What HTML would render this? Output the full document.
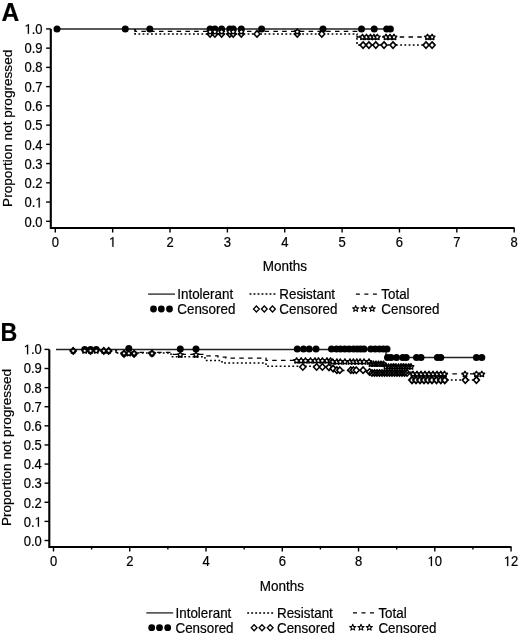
<!DOCTYPE html><html><head><meta charset="utf-8"><style>html,body{margin:0;padding:0;background:#fff;}svg{display:block;}svg{filter:grayscale(1);} text{stroke:#000;stroke-width:0.2px;}</style></head><body>
<svg width="520" height="636" viewBox="0 0 520 636">
<rect width="520" height="636" fill="#fff"/>
<text transform="translate(1.5,21.3) scale(0.985,1)" font-family="Liberation Sans, sans-serif" font-weight="bold" font-size="25" fill="#000">A</text>
<path d="M50.8,28.9 V228 H514.5" fill="none" stroke="#000" stroke-width="2.1"/>
<line x1="46.1" y1="221.30" x2="50.8" y2="221.30" stroke="#000" stroke-width="1.4"/>
<text transform="translate(24.53,226.70) scale(1,1.07)" font-family="Liberation Sans, sans-serif" font-size="13" fill="#000">0.0</text>
<line x1="46.1" y1="202.06" x2="50.8" y2="202.06" stroke="#000" stroke-width="1.4"/>
<text transform="translate(24.53,207.41) scale(1,1.07)" font-family="Liberation Sans, sans-serif" font-size="13" fill="#000">0. </text><path transform="translate(35.370,207.410) scale(0.006348,-0.006792)" d="M515,0 V1237 Q380,1130 197,1040 V1190 Q420,1300 540,1409 H696 V0 Z" fill="#000" stroke="#000" stroke-width="30"/>
<line x1="46.1" y1="182.82" x2="50.8" y2="182.82" stroke="#000" stroke-width="1.4"/>
<text transform="translate(24.53,188.12) scale(1,1.07)" font-family="Liberation Sans, sans-serif" font-size="13" fill="#000">0.2</text>
<line x1="46.1" y1="163.58" x2="50.8" y2="163.58" stroke="#000" stroke-width="1.4"/>
<text transform="translate(24.53,168.83) scale(1,1.07)" font-family="Liberation Sans, sans-serif" font-size="13" fill="#000">0.3</text>
<line x1="46.1" y1="144.34" x2="50.8" y2="144.34" stroke="#000" stroke-width="1.4"/>
<text transform="translate(24.53,149.54) scale(1,1.07)" font-family="Liberation Sans, sans-serif" font-size="13" fill="#000">0.4</text>
<line x1="46.1" y1="125.10" x2="50.8" y2="125.10" stroke="#000" stroke-width="1.4"/>
<text transform="translate(24.53,130.25) scale(1,1.07)" font-family="Liberation Sans, sans-serif" font-size="13" fill="#000">0.5</text>
<line x1="46.1" y1="105.86" x2="50.8" y2="105.86" stroke="#000" stroke-width="1.4"/>
<text transform="translate(24.53,110.96) scale(1,1.07)" font-family="Liberation Sans, sans-serif" font-size="13" fill="#000">0.6</text>
<line x1="46.1" y1="86.62" x2="50.8" y2="86.62" stroke="#000" stroke-width="1.4"/>
<text transform="translate(24.53,91.67) scale(1,1.07)" font-family="Liberation Sans, sans-serif" font-size="13" fill="#000">0.7</text>
<line x1="46.1" y1="67.38" x2="50.8" y2="67.38" stroke="#000" stroke-width="1.4"/>
<text transform="translate(24.53,72.38) scale(1,1.07)" font-family="Liberation Sans, sans-serif" font-size="13" fill="#000">0.8</text>
<line x1="46.1" y1="48.14" x2="50.8" y2="48.14" stroke="#000" stroke-width="1.4"/>
<text transform="translate(24.53,53.09) scale(1,1.07)" font-family="Liberation Sans, sans-serif" font-size="13" fill="#000">0.9</text>
<line x1="46.1" y1="28.90" x2="50.8" y2="28.90" stroke="#000" stroke-width="1.4"/>
<text transform="translate(24.53,33.80) scale(1,1.07)" font-family="Liberation Sans, sans-serif" font-size="13" fill="#000"> .0</text><path transform="translate(24.528,33.800) scale(0.006348,-0.006792)" d="M515,0 V1237 Q380,1130 197,1040 V1190 Q420,1300 540,1409 H696 V0 Z" fill="#000" stroke="#000" stroke-width="30"/>
<line x1="55.30" y1="228" x2="55.30" y2="232.5" stroke="#000" stroke-width="1.4"/>
<text transform="translate(51.69,246.80) scale(1,1.07)" font-family="Liberation Sans, sans-serif" font-size="13" fill="#000">0</text>
<line x1="112.66" y1="228" x2="112.66" y2="232.5" stroke="#000" stroke-width="1.4"/>
<text transform="translate(109.05,246.80) scale(1,1.07)" font-family="Liberation Sans, sans-serif" font-size="13" fill="#000"> </text><path transform="translate(109.045,246.800) scale(0.006348,-0.006792)" d="M515,0 V1237 Q380,1130 197,1040 V1190 Q420,1300 540,1409 H696 V0 Z" fill="#000" stroke="#000" stroke-width="30"/>
<line x1="170.02" y1="228" x2="170.02" y2="232.5" stroke="#000" stroke-width="1.4"/>
<text transform="translate(166.41,246.80) scale(1,1.07)" font-family="Liberation Sans, sans-serif" font-size="13" fill="#000">2</text>
<line x1="227.38" y1="228" x2="227.38" y2="232.5" stroke="#000" stroke-width="1.4"/>
<text transform="translate(223.77,246.80) scale(1,1.07)" font-family="Liberation Sans, sans-serif" font-size="13" fill="#000">3</text>
<line x1="284.74" y1="228" x2="284.74" y2="232.5" stroke="#000" stroke-width="1.4"/>
<text transform="translate(281.13,246.80) scale(1,1.07)" font-family="Liberation Sans, sans-serif" font-size="13" fill="#000">4</text>
<line x1="342.10" y1="228" x2="342.10" y2="232.5" stroke="#000" stroke-width="1.4"/>
<text transform="translate(338.49,246.80) scale(1,1.07)" font-family="Liberation Sans, sans-serif" font-size="13" fill="#000">5</text>
<line x1="399.46" y1="228" x2="399.46" y2="232.5" stroke="#000" stroke-width="1.4"/>
<text transform="translate(395.85,246.80) scale(1,1.07)" font-family="Liberation Sans, sans-serif" font-size="13" fill="#000">6</text>
<line x1="456.82" y1="228" x2="456.82" y2="232.5" stroke="#000" stroke-width="1.4"/>
<text transform="translate(453.21,246.80) scale(1,1.07)" font-family="Liberation Sans, sans-serif" font-size="13" fill="#000">7</text>
<line x1="514.18" y1="228" x2="514.18" y2="232.5" stroke="#000" stroke-width="1.4"/>
<text transform="translate(510.57,246.80) scale(1,1.07)" font-family="Liberation Sans, sans-serif" font-size="13" fill="#000">8</text>
<text transform="translate(284.80,271.30) scale(1,1.04)" font-family="Liberation Sans, sans-serif" font-size="13.5" text-anchor="middle" fill="#000">Months</text>
<text transform="translate(11.8,128.3) rotate(-90)" x="0" y="0" font-family="Liberation Sans, sans-serif" font-size="13.6" text-anchor="middle" fill="#000">Proportion not progressed</text>
<path d="M57.02,28.90 H390.4" fill="none" stroke="#222" stroke-width="1.5"/>
<path d="M135.00,28.90 H135.00 V31.30 H357.00 V37.00 H433.00 V37.00" fill="none" stroke="#000" stroke-width="1.3" stroke-dasharray="4.5,4.3"/>
<path d="M135.00,28.90 H135.00 V33.90 H357.00 V45.10 H433.00 V45.10" fill="none" stroke="#000" stroke-width="1.5" stroke-dasharray="1.8,2.4"/>
<circle cx="57.00" cy="28.90" r="3.5" fill="#000"/>
<circle cx="125.30" cy="28.90" r="3.5" fill="#000"/>
<circle cx="149.80" cy="28.90" r="3.5" fill="#000"/>
<circle cx="210.10" cy="28.90" r="3.5" fill="#000"/>
<circle cx="214.90" cy="28.90" r="3.5" fill="#000"/>
<circle cx="221.60" cy="28.90" r="3.5" fill="#000"/>
<circle cx="229.80" cy="28.90" r="3.5" fill="#000"/>
<circle cx="233.20" cy="28.90" r="3.5" fill="#000"/>
<circle cx="241.30" cy="28.90" r="3.5" fill="#000"/>
<circle cx="261.60" cy="28.90" r="3.5" fill="#000"/>
<circle cx="323.00" cy="28.90" r="3.5" fill="#000"/>
<circle cx="361.50" cy="28.90" r="3.5" fill="#000"/>
<circle cx="374.20" cy="28.90" r="3.5" fill="#000"/>
<circle cx="386.70" cy="28.90" r="3.5" fill="#000"/>
<circle cx="390.40" cy="28.90" r="3.5" fill="#000"/>
<polygon points="210.10,30.70 213.10,33.90 210.10,37.10 207.10,33.90" fill="#fff" stroke="#000" stroke-width="1.5"/>
<polygon points="214.90,30.70 217.90,33.90 214.90,37.10 211.90,33.90" fill="#fff" stroke="#000" stroke-width="1.5"/>
<polygon points="221.60,30.70 224.60,33.90 221.60,37.10 218.60,33.90" fill="#fff" stroke="#000" stroke-width="1.5"/>
<polygon points="229.80,30.70 232.80,33.90 229.80,37.10 226.80,33.90" fill="#fff" stroke="#000" stroke-width="1.5"/>
<polygon points="233.20,30.70 236.20,33.90 233.20,37.10 230.20,33.90" fill="#fff" stroke="#000" stroke-width="1.5"/>
<polygon points="241.30,30.70 244.30,33.90 241.30,37.10 238.30,33.90" fill="#fff" stroke="#000" stroke-width="1.5"/>
<polygon points="257.00,30.70 260.00,33.90 257.00,37.10 254.00,33.90" fill="#fff" stroke="#000" stroke-width="1.5"/>
<polygon points="297.30,30.70 300.30,33.90 297.30,37.10 294.30,33.90" fill="#fff" stroke="#000" stroke-width="1.5"/>
<polygon points="321.80,30.70 324.80,33.90 321.80,37.10 318.80,33.90" fill="#fff" stroke="#000" stroke-width="1.5"/>
<polygon points="363.10,41.90 366.10,45.10 363.10,48.30 360.10,45.10" fill="#fff" stroke="#000" stroke-width="1.6"/>
<polygon points="368.90,41.90 371.90,45.10 368.90,48.30 365.90,45.10" fill="#fff" stroke="#000" stroke-width="1.6"/>
<polygon points="375.80,41.90 378.80,45.10 375.80,48.30 372.80,45.10" fill="#fff" stroke="#000" stroke-width="1.6"/>
<polygon points="384.00,41.90 387.00,45.10 384.00,48.30 381.00,45.10" fill="#fff" stroke="#000" stroke-width="1.6"/>
<polygon points="393.00,41.90 396.00,45.10 393.00,48.30 390.00,45.10" fill="#fff" stroke="#000" stroke-width="1.6"/>
<polygon points="426.00,41.90 429.00,45.10 426.00,48.30 423.00,45.10" fill="#fff" stroke="#000" stroke-width="1.6"/>
<polygon points="432.10,41.90 435.10,45.10 432.10,48.30 429.10,45.10" fill="#fff" stroke="#000" stroke-width="1.6"/>
<polygon points="210.10,28.80 211.04,30.41 212.86,30.80 211.62,32.19 211.80,34.05 210.10,33.30 208.40,34.05 208.58,32.19 207.34,30.80 209.16,30.41" fill="#fff" stroke="#000" stroke-width="1.3" stroke-linejoin="round"/>
<polygon points="214.90,28.80 215.84,30.41 217.66,30.80 216.42,32.19 216.60,34.05 214.90,33.30 213.20,34.05 213.38,32.19 212.14,30.80 213.96,30.41" fill="#fff" stroke="#000" stroke-width="1.3" stroke-linejoin="round"/>
<polygon points="221.60,28.80 222.54,30.41 224.36,30.80 223.12,32.19 223.30,34.05 221.60,33.30 219.90,34.05 220.08,32.19 218.84,30.80 220.66,30.41" fill="#fff" stroke="#000" stroke-width="1.3" stroke-linejoin="round"/>
<polygon points="229.80,28.80 230.74,30.41 232.56,30.80 231.32,32.19 231.50,34.05 229.80,33.30 228.10,34.05 228.28,32.19 227.04,30.80 228.86,30.41" fill="#fff" stroke="#000" stroke-width="1.3" stroke-linejoin="round"/>
<polygon points="233.20,28.80 234.14,30.41 235.96,30.80 234.72,32.19 234.90,34.05 233.20,33.30 231.50,34.05 231.68,32.19 230.44,30.80 232.26,30.41" fill="#fff" stroke="#000" stroke-width="1.3" stroke-linejoin="round"/>
<polygon points="241.30,28.80 242.24,30.41 244.06,30.80 242.82,32.19 243.00,34.05 241.30,33.30 239.60,34.05 239.78,32.19 238.54,30.80 240.36,30.41" fill="#fff" stroke="#000" stroke-width="1.3" stroke-linejoin="round"/>
<polygon points="297.30,28.80 298.24,30.41 300.06,30.80 298.82,32.19 299.00,34.05 297.30,33.30 295.60,34.05 295.78,32.19 294.54,30.80 296.36,30.41" fill="#fff" stroke="#000" stroke-width="1.3" stroke-linejoin="round"/>
<polygon points="362.50,34.30 363.44,35.91 365.26,36.30 364.02,37.69 364.20,39.55 362.50,38.79 360.80,39.55 360.98,37.69 359.74,36.30 361.56,35.91" fill="#fff" stroke="#000" stroke-width="1.45" stroke-linejoin="round"/>
<polygon points="366.50,34.30 367.44,35.91 369.26,36.30 368.02,37.69 368.20,39.55 366.50,38.79 364.80,39.55 364.98,37.69 363.74,36.30 365.56,35.91" fill="#fff" stroke="#000" stroke-width="1.45" stroke-linejoin="round"/>
<polygon points="370.50,34.30 371.44,35.91 373.26,36.30 372.02,37.69 372.20,39.55 370.50,38.79 368.80,39.55 368.98,37.69 367.74,36.30 369.56,35.91" fill="#fff" stroke="#000" stroke-width="1.45" stroke-linejoin="round"/>
<polygon points="374.00,34.30 374.94,35.91 376.76,36.30 375.52,37.69 375.70,39.55 374.00,38.79 372.30,39.55 372.48,37.69 371.24,36.30 373.06,35.91" fill="#fff" stroke="#000" stroke-width="1.45" stroke-linejoin="round"/>
<polygon points="377.30,34.30 378.24,35.91 380.06,36.30 378.82,37.69 379.00,39.55 377.30,38.79 375.60,39.55 375.78,37.69 374.54,36.30 376.36,35.91" fill="#fff" stroke="#000" stroke-width="1.45" stroke-linejoin="round"/>
<polygon points="386.00,34.30 386.94,35.91 388.76,36.30 387.52,37.69 387.70,39.55 386.00,38.79 384.30,39.55 384.48,37.69 383.24,36.30 385.06,35.91" fill="#fff" stroke="#000" stroke-width="1.45" stroke-linejoin="round"/>
<polygon points="390.00,34.30 390.94,35.91 392.76,36.30 391.52,37.69 391.70,39.55 390.00,38.79 388.30,39.55 388.48,37.69 387.24,36.30 389.06,35.91" fill="#fff" stroke="#000" stroke-width="1.45" stroke-linejoin="round"/>
<polygon points="394.00,34.30 394.94,35.91 396.76,36.30 395.52,37.69 395.70,39.55 394.00,38.79 392.30,39.55 392.48,37.69 391.24,36.30 393.06,35.91" fill="#fff" stroke="#000" stroke-width="1.45" stroke-linejoin="round"/>
<polygon points="427.50,34.30 428.44,35.91 430.26,36.30 429.02,37.69 429.20,39.55 427.50,38.79 425.80,39.55 425.98,37.69 424.74,36.30 426.56,35.91" fill="#fff" stroke="#000" stroke-width="1.45" stroke-linejoin="round"/>
<polygon points="432.10,34.30 433.04,35.91 434.86,36.30 433.62,37.69 433.80,39.55 432.10,38.79 430.40,39.55 430.58,37.69 429.34,36.30 431.16,35.91" fill="#fff" stroke="#000" stroke-width="1.45" stroke-linejoin="round"/>
<line x1="148.10" y1="294.10" x2="175.00" y2="294.10" stroke="#222" stroke-width="1.3"/>
<text transform="translate(177.30,298.80) scale(1,1.07)" font-family="Liberation Sans, sans-serif" font-size="13.4" fill="#000">Intolerant</text>
<line x1="249.50" y1="294.10" x2="277.00" y2="294.10" stroke="#000" stroke-width="1.5" stroke-dasharray="1.9,2.1"/>
<text transform="translate(279.30,298.80) scale(1,1.07)" font-family="Liberation Sans, sans-serif" font-size="13.4" fill="#000">Resistant</text>
<line x1="355.90" y1="294.10" x2="378.00" y2="294.10" stroke="#000" stroke-width="1.3" stroke-dasharray="4,4.5"/>
<text transform="translate(381.30,298.80) scale(1,1.07)" font-family="Liberation Sans, sans-serif" font-size="13.4" fill="#000">Total</text>
<circle cx="153.50" cy="309.00" r="3.4" fill="#000"/>
<circle cx="161.30" cy="309.00" r="3.4" fill="#000"/>
<circle cx="169.50" cy="309.00" r="3.4" fill="#000"/>
<text transform="translate(177.30,313.80) scale(1,1.07)" font-family="Liberation Sans, sans-serif" font-size="13.4" fill="#000">Censored</text>
<polygon points="256.40,306.00 259.30,309.00 256.40,312.00 253.50,309.00" fill="#fff" stroke="#000" stroke-width="1.3"/>
<polygon points="264.30,306.00 267.20,309.00 264.30,312.00 261.40,309.00" fill="#fff" stroke="#000" stroke-width="1.3"/>
<polygon points="272.50,306.00 275.40,309.00 272.50,312.00 269.60,309.00" fill="#fff" stroke="#000" stroke-width="1.3"/>
<text transform="translate(279.30,313.80) scale(1,1.07)" font-family="Liberation Sans, sans-serif" font-size="13.4" fill="#000">Censored</text>
<polygon points="355.65,305.60 356.44,307.71 358.69,307.81 356.93,309.22 357.53,311.39 355.65,310.15 353.77,311.39 354.37,309.22 352.61,307.81 354.86,307.71" fill="#fff" stroke="#000" stroke-width="1.1" stroke-linejoin="round"/>
<polygon points="363.90,305.60 364.69,307.71 366.94,307.81 365.18,309.22 365.78,311.39 363.90,310.15 362.02,311.39 362.62,309.22 360.86,307.81 363.11,307.71" fill="#fff" stroke="#000" stroke-width="1.1" stroke-linejoin="round"/>
<polygon points="372.20,305.60 372.99,307.71 375.24,307.81 373.48,309.22 374.08,311.39 372.20,310.15 370.32,311.39 370.92,309.22 369.16,307.81 371.41,307.71" fill="#fff" stroke="#000" stroke-width="1.1" stroke-linejoin="round"/>
<text transform="translate(381.30,313.80) scale(1,1.07)" font-family="Liberation Sans, sans-serif" font-size="13.4" fill="#000">Censored</text>
<text transform="translate(0.6,340.8) scale(0.93,1)" font-family="Liberation Sans, sans-serif" font-weight="bold" font-size="25" fill="#000">B</text>
<path d="M49.3,349.4 V547 H511.5" fill="none" stroke="#000" stroke-width="2.1"/>
<line x1="44.5" y1="540.50" x2="49.3" y2="540.50" stroke="#000" stroke-width="1.4"/>
<text transform="translate(23.73,545.90) scale(1,1.07)" font-family="Liberation Sans, sans-serif" font-size="13" fill="#000">0.0</text>
<line x1="44.5" y1="521.39" x2="49.3" y2="521.39" stroke="#000" stroke-width="1.4"/>
<text transform="translate(23.73,526.74) scale(1,1.07)" font-family="Liberation Sans, sans-serif" font-size="13" fill="#000">0. </text><path transform="translate(34.570,526.740) scale(0.006348,-0.006792)" d="M515,0 V1237 Q380,1130 197,1040 V1190 Q420,1300 540,1409 H696 V0 Z" fill="#000" stroke="#000" stroke-width="30"/>
<line x1="44.5" y1="502.28" x2="49.3" y2="502.28" stroke="#000" stroke-width="1.4"/>
<text transform="translate(23.73,507.58) scale(1,1.07)" font-family="Liberation Sans, sans-serif" font-size="13" fill="#000">0.2</text>
<line x1="44.5" y1="483.17" x2="49.3" y2="483.17" stroke="#000" stroke-width="1.4"/>
<text transform="translate(23.73,488.42) scale(1,1.07)" font-family="Liberation Sans, sans-serif" font-size="13" fill="#000">0.3</text>
<line x1="44.5" y1="464.06" x2="49.3" y2="464.06" stroke="#000" stroke-width="1.4"/>
<text transform="translate(23.73,469.26) scale(1,1.07)" font-family="Liberation Sans, sans-serif" font-size="13" fill="#000">0.4</text>
<line x1="44.5" y1="444.95" x2="49.3" y2="444.95" stroke="#000" stroke-width="1.4"/>
<text transform="translate(23.73,450.10) scale(1,1.07)" font-family="Liberation Sans, sans-serif" font-size="13" fill="#000">0.5</text>
<line x1="44.5" y1="425.84" x2="49.3" y2="425.84" stroke="#000" stroke-width="1.4"/>
<text transform="translate(23.73,430.94) scale(1,1.07)" font-family="Liberation Sans, sans-serif" font-size="13" fill="#000">0.6</text>
<line x1="44.5" y1="406.73" x2="49.3" y2="406.73" stroke="#000" stroke-width="1.4"/>
<text transform="translate(23.73,411.78) scale(1,1.07)" font-family="Liberation Sans, sans-serif" font-size="13" fill="#000">0.7</text>
<line x1="44.5" y1="387.62" x2="49.3" y2="387.62" stroke="#000" stroke-width="1.4"/>
<text transform="translate(23.73,392.62) scale(1,1.07)" font-family="Liberation Sans, sans-serif" font-size="13" fill="#000">0.8</text>
<line x1="44.5" y1="368.51" x2="49.3" y2="368.51" stroke="#000" stroke-width="1.4"/>
<text transform="translate(23.73,373.46) scale(1,1.07)" font-family="Liberation Sans, sans-serif" font-size="13" fill="#000">0.9</text>
<line x1="44.5" y1="349.40" x2="49.3" y2="349.40" stroke="#000" stroke-width="1.4"/>
<text transform="translate(23.73,354.30) scale(1,1.07)" font-family="Liberation Sans, sans-serif" font-size="13" fill="#000"> .0</text><path transform="translate(23.728,354.300) scale(0.006348,-0.006792)" d="M515,0 V1237 Q380,1130 197,1040 V1190 Q420,1300 540,1409 H696 V0 Z" fill="#000" stroke="#000" stroke-width="30"/>
<line x1="53.50" y1="547" x2="53.50" y2="551.5" stroke="#000" stroke-width="1.4"/>
<text transform="translate(49.89,566.10) scale(1,1.07)" font-family="Liberation Sans, sans-serif" font-size="13" fill="#000">0</text>
<line x1="91.63" y1="547" x2="91.63" y2="549.5" stroke="#000" stroke-width="1.4"/>
<line x1="129.76" y1="547" x2="129.76" y2="551.5" stroke="#000" stroke-width="1.4"/>
<text transform="translate(126.15,566.10) scale(1,1.07)" font-family="Liberation Sans, sans-serif" font-size="13" fill="#000">2</text>
<line x1="167.89" y1="547" x2="167.89" y2="549.5" stroke="#000" stroke-width="1.4"/>
<line x1="206.02" y1="547" x2="206.02" y2="551.5" stroke="#000" stroke-width="1.4"/>
<text transform="translate(202.41,566.10) scale(1,1.07)" font-family="Liberation Sans, sans-serif" font-size="13" fill="#000">4</text>
<line x1="244.15" y1="547" x2="244.15" y2="549.5" stroke="#000" stroke-width="1.4"/>
<line x1="282.28" y1="547" x2="282.28" y2="551.5" stroke="#000" stroke-width="1.4"/>
<text transform="translate(278.67,566.10) scale(1,1.07)" font-family="Liberation Sans, sans-serif" font-size="13" fill="#000">6</text>
<line x1="320.41" y1="547" x2="320.41" y2="549.5" stroke="#000" stroke-width="1.4"/>
<line x1="358.54" y1="547" x2="358.54" y2="551.5" stroke="#000" stroke-width="1.4"/>
<text transform="translate(354.93,566.10) scale(1,1.07)" font-family="Liberation Sans, sans-serif" font-size="13" fill="#000">8</text>
<line x1="396.67" y1="547" x2="396.67" y2="549.5" stroke="#000" stroke-width="1.4"/>
<line x1="434.80" y1="547" x2="434.80" y2="551.5" stroke="#000" stroke-width="1.4"/>
<text transform="translate(427.57,566.10) scale(1,1.07)" font-family="Liberation Sans, sans-serif" font-size="13" fill="#000"> 0</text><path transform="translate(427.570,566.100) scale(0.006348,-0.006792)" d="M515,0 V1237 Q380,1130 197,1040 V1190 Q420,1300 540,1409 H696 V0 Z" fill="#000" stroke="#000" stroke-width="30"/>
<line x1="472.93" y1="547" x2="472.93" y2="549.5" stroke="#000" stroke-width="1.4"/>
<line x1="511.06" y1="547" x2="511.06" y2="551.5" stroke="#000" stroke-width="1.4"/>
<text transform="translate(503.83,566.10) scale(1,1.07)" font-family="Liberation Sans, sans-serif" font-size="13" fill="#000"> 2</text><path transform="translate(503.830,566.100) scale(0.006348,-0.006792)" d="M515,0 V1237 Q380,1130 197,1040 V1190 Q420,1300 540,1409 H696 V0 Z" fill="#000" stroke="#000" stroke-width="30"/>
<text transform="translate(282.00,590.80) scale(1,1.04)" font-family="Liberation Sans, sans-serif" font-size="13.5" text-anchor="middle" fill="#000">Months</text>
<text transform="translate(10.8,447.5) rotate(-90)" x="0" y="0" font-family="Liberation Sans, sans-serif" font-size="13.6" text-anchor="middle" fill="#000">Proportion not progressed</text>
<path d="M56,349.40 H386 V357.4 H482" fill="none" stroke="#222" stroke-width="1.5"/>
<path d="M116.00,349.40 H116.00 V352.30 H171.00 V354.40 H203.70 V355.90 H218.00 V357.10 H226.00 V358.10 H266.00 V360.40 H305.00 V361.60 H370.00 V364.50 H411.00 V373.80 H482.00 V373.80" fill="none" stroke="#000" stroke-width="1.3" stroke-dasharray="4.5,4.3"/>
<path d="M116.00,349.40 H116.00 V353.00 H171.00 V356.80 H205.00 V360.40 H222.00 V363.10 H266.00 V366.30 H334.00 V370.50 H368.00 V372.80 H411.00 V380.00 H476.40 V380.00" fill="none" stroke="#000" stroke-width="1.5" stroke-dasharray="1.8,2.4"/>
<circle cx="84.70" cy="349.40" r="3.5" fill="#000"/>
<circle cx="90.50" cy="349.40" r="3.5" fill="#000"/>
<circle cx="96.25" cy="349.40" r="3.5" fill="#000"/>
<circle cx="128.80" cy="348.60" r="3.5" fill="#000"/>
<circle cx="180.30" cy="349.10" r="3.5" fill="#000"/>
<circle cx="196.00" cy="349.10" r="3.5" fill="#000"/>
<circle cx="297.30" cy="348.90" r="3.5" fill="#000"/>
<circle cx="303.50" cy="348.90" r="3.5" fill="#000"/>
<circle cx="309.20" cy="348.90" r="3.5" fill="#000"/>
<circle cx="316.00" cy="348.90" r="3.5" fill="#000"/>
<circle cx="331.50" cy="348.90" r="3.5" fill="#000"/>
<circle cx="336.50" cy="348.90" r="3.5" fill="#000"/>
<circle cx="340.50" cy="348.90" r="3.5" fill="#000"/>
<circle cx="344.80" cy="348.90" r="3.5" fill="#000"/>
<circle cx="349.10" cy="348.90" r="3.5" fill="#000"/>
<circle cx="353.50" cy="348.90" r="3.5" fill="#000"/>
<circle cx="357.30" cy="348.90" r="3.5" fill="#000"/>
<circle cx="360.70" cy="348.90" r="3.5" fill="#000"/>
<circle cx="364.00" cy="348.90" r="3.5" fill="#000"/>
<circle cx="370.80" cy="348.90" r="3.5" fill="#000"/>
<circle cx="375.10" cy="348.90" r="3.5" fill="#000"/>
<circle cx="379.40" cy="348.90" r="3.5" fill="#000"/>
<circle cx="383.30" cy="348.90" r="3.5" fill="#000"/>
<circle cx="387.00" cy="348.90" r="3.5" fill="#000"/>
<circle cx="387.50" cy="357.60" r="3.5" fill="#000"/>
<circle cx="391.00" cy="357.60" r="3.5" fill="#000"/>
<circle cx="396.50" cy="357.60" r="3.5" fill="#000"/>
<circle cx="402.70" cy="357.60" r="3.5" fill="#000"/>
<circle cx="406.20" cy="357.60" r="3.5" fill="#000"/>
<circle cx="416.50" cy="357.60" r="3.5" fill="#000"/>
<circle cx="421.00" cy="357.60" r="3.5" fill="#000"/>
<circle cx="437.40" cy="357.60" r="3.5" fill="#000"/>
<circle cx="440.80" cy="357.60" r="3.5" fill="#000"/>
<circle cx="476.40" cy="357.60" r="3.5" fill="#000"/>
<circle cx="481.80" cy="357.60" r="3.5" fill="#000"/>
<polygon points="73.20,347.70 76.20,350.90 73.20,354.10 70.20,350.90" fill="#fff" stroke="#000" stroke-width="1.6"/>
<polygon points="90.50,347.70 93.50,350.90 90.50,354.10 87.50,350.90" fill="#fff" stroke="#000" stroke-width="1.6"/>
<polygon points="103.80,347.70 106.80,350.90 103.80,354.10 100.80,350.90" fill="#fff" stroke="#000" stroke-width="1.6"/>
<polygon points="108.70,347.70 111.70,350.90 108.70,354.10 105.70,350.90" fill="#fff" stroke="#000" stroke-width="1.6"/>
<polygon points="124.00,350.60 127.00,353.80 124.00,357.00 121.00,353.80" fill="#fff" stroke="#000" stroke-width="1.6"/>
<polygon points="134.10,350.60 137.10,353.80 134.10,357.00 131.10,353.80" fill="#fff" stroke="#000" stroke-width="1.6"/>
<polygon points="152.00,350.30 155.00,353.50 152.00,356.70 149.00,353.50" fill="#fff" stroke="#000" stroke-width="1.6"/>
<polygon points="302.80,363.80 305.80,367.00 302.80,370.20 299.80,367.00" fill="#fff" stroke="#000" stroke-width="1.6"/>
<polygon points="316.60,363.80 319.60,367.00 316.60,370.20 313.60,367.00" fill="#fff" stroke="#000" stroke-width="1.6"/>
<polygon points="322.40,363.80 325.40,367.00 322.40,370.20 319.40,367.00" fill="#fff" stroke="#000" stroke-width="1.6"/>
<polygon points="329.00,364.10 332.00,367.30 329.00,370.50 326.00,367.30" fill="#fff" stroke="#000" stroke-width="1.6"/>
<polygon points="333.10,365.40 336.10,368.60 333.10,371.80 330.10,368.60" fill="#fff" stroke="#000" stroke-width="1.6"/>
<polygon points="336.90,367.00 339.90,370.20 336.90,373.40 333.90,370.20" fill="#fff" stroke="#000" stroke-width="1.6"/>
<polygon points="339.80,367.00 342.80,370.20 339.80,373.40 336.80,370.20" fill="#fff" stroke="#000" stroke-width="1.6"/>
<polygon points="350.80,367.00 353.80,370.20 350.80,373.40 347.80,370.20" fill="#fff" stroke="#000" stroke-width="1.6"/>
<polygon points="353.40,367.00 356.40,370.20 353.40,373.40 350.40,370.20" fill="#fff" stroke="#000" stroke-width="1.6"/>
<polygon points="356.30,367.00 359.30,370.20 356.30,373.40 353.30,370.20" fill="#fff" stroke="#000" stroke-width="1.6"/>
<polygon points="363.10,367.00 366.10,370.20 363.10,373.40 360.10,370.20" fill="#fff" stroke="#000" stroke-width="1.6"/>
<polygon points="369.50,368.80 372.50,372.00 369.50,375.20 366.50,372.00" fill="#fff" stroke="#000" stroke-width="1.6"/>
<polygon points="372.00,369.80 375.00,373.00 372.00,376.20 369.00,373.00" fill="none" stroke="#000" stroke-width="1.6"/>
<polygon points="374.50,369.80 377.50,373.00 374.50,376.20 371.50,373.00" fill="none" stroke="#000" stroke-width="1.6"/>
<polygon points="377.00,369.80 380.00,373.00 377.00,376.20 374.00,373.00" fill="none" stroke="#000" stroke-width="1.6"/>
<polygon points="379.50,369.80 382.50,373.00 379.50,376.20 376.50,373.00" fill="none" stroke="#000" stroke-width="1.6"/>
<polygon points="382.00,369.80 385.00,373.00 382.00,376.20 379.00,373.00" fill="none" stroke="#000" stroke-width="1.6"/>
<polygon points="384.50,369.80 387.50,373.00 384.50,376.20 381.50,373.00" fill="none" stroke="#000" stroke-width="1.6"/>
<polygon points="387.00,369.80 390.00,373.00 387.00,376.20 384.00,373.00" fill="none" stroke="#000" stroke-width="1.6"/>
<polygon points="389.50,369.80 392.50,373.00 389.50,376.20 386.50,373.00" fill="none" stroke="#000" stroke-width="1.6"/>
<polygon points="392.00,369.80 395.00,373.00 392.00,376.20 389.00,373.00" fill="none" stroke="#000" stroke-width="1.6"/>
<polygon points="394.50,369.80 397.50,373.00 394.50,376.20 391.50,373.00" fill="none" stroke="#000" stroke-width="1.6"/>
<polygon points="397.00,369.80 400.00,373.00 397.00,376.20 394.00,373.00" fill="none" stroke="#000" stroke-width="1.6"/>
<polygon points="399.50,369.80 402.50,373.00 399.50,376.20 396.50,373.00" fill="none" stroke="#000" stroke-width="1.6"/>
<polygon points="402.00,369.80 405.00,373.00 402.00,376.20 399.00,373.00" fill="none" stroke="#000" stroke-width="1.6"/>
<polygon points="404.50,369.80 407.50,373.00 404.50,376.20 401.50,373.00" fill="none" stroke="#000" stroke-width="1.6"/>
<polygon points="407.00,369.80 410.00,373.00 407.00,376.20 404.00,373.00" fill="none" stroke="#000" stroke-width="1.6"/>
<polygon points="412.00,376.90 415.00,380.10 412.00,383.30 409.00,380.10" fill="#fff" stroke="#000" stroke-width="1.9"/>
<polygon points="416.00,376.90 419.00,380.10 416.00,383.30 413.00,380.10" fill="#fff" stroke="#000" stroke-width="1.9"/>
<polygon points="420.00,376.90 423.00,380.10 420.00,383.30 417.00,380.10" fill="#fff" stroke="#000" stroke-width="1.9"/>
<polygon points="424.00,376.90 427.00,380.10 424.00,383.30 421.00,380.10" fill="#fff" stroke="#000" stroke-width="1.9"/>
<polygon points="428.00,376.90 431.00,380.10 428.00,383.30 425.00,380.10" fill="#fff" stroke="#000" stroke-width="1.9"/>
<polygon points="432.00,376.90 435.00,380.10 432.00,383.30 429.00,380.10" fill="#fff" stroke="#000" stroke-width="1.9"/>
<polygon points="436.50,376.90 439.50,380.10 436.50,383.30 433.50,380.10" fill="#fff" stroke="#000" stroke-width="1.9"/>
<polygon points="440.80,376.90 443.80,380.10 440.80,383.30 437.80,380.10" fill="#fff" stroke="#000" stroke-width="1.9"/>
<polygon points="444.80,376.90 447.80,380.10 444.80,383.30 441.80,380.10" fill="#fff" stroke="#000" stroke-width="1.9"/>
<polygon points="465.30,376.90 468.30,380.10 465.30,383.30 462.30,380.10" fill="#fff" stroke="#000" stroke-width="1.6"/>
<polygon points="476.40,376.90 479.40,380.10 476.40,383.30 473.40,380.10" fill="#fff" stroke="#000" stroke-width="1.6"/>
<polygon points="73.20,347.90 74.14,349.51 75.96,349.90 74.72,351.29 74.90,353.15 73.20,352.39 71.50,353.15 71.68,351.29 70.44,349.90 72.26,349.51" fill="#fff" stroke="#000" stroke-width="1.45" stroke-linejoin="round"/>
<polygon points="84.70,347.90 85.64,349.51 87.46,349.90 86.22,351.29 86.40,353.15 84.70,352.39 83.00,353.15 83.18,351.29 81.94,349.90 83.76,349.51" fill="#fff" stroke="#000" stroke-width="1.45" stroke-linejoin="round"/>
<polygon points="90.50,347.90 91.44,349.51 93.26,349.90 92.02,351.29 92.20,353.15 90.50,352.39 88.80,353.15 88.98,351.29 87.74,349.90 89.56,349.51" fill="#fff" stroke="#000" stroke-width="1.45" stroke-linejoin="round"/>
<polygon points="96.25,347.90 97.19,349.51 99.01,349.90 97.77,351.29 97.95,353.15 96.25,352.39 94.55,353.15 94.73,351.29 93.49,349.90 95.31,349.51" fill="#fff" stroke="#000" stroke-width="1.45" stroke-linejoin="round"/>
<polygon points="103.80,347.90 104.74,349.51 106.56,349.90 105.32,351.29 105.50,353.15 103.80,352.39 102.10,353.15 102.28,351.29 101.04,349.90 102.86,349.51" fill="#fff" stroke="#000" stroke-width="1.45" stroke-linejoin="round"/>
<polygon points="108.70,347.90 109.64,349.51 111.46,349.90 110.22,351.29 110.40,353.15 108.70,352.39 107.00,353.15 107.18,351.29 105.94,349.90 107.76,349.51" fill="#fff" stroke="#000" stroke-width="1.45" stroke-linejoin="round"/>
<polygon points="124.00,350.50 124.94,352.11 126.76,352.50 125.52,353.89 125.70,355.75 124.00,355.00 122.30,355.75 122.48,353.89 121.24,352.50 123.06,352.11" fill="#fff" stroke="#000" stroke-width="1.45" stroke-linejoin="round"/>
<polygon points="128.80,350.50 129.74,352.11 131.56,352.50 130.32,353.89 130.50,355.75 128.80,355.00 127.10,355.75 127.28,353.89 126.04,352.50 127.86,352.11" fill="#fff" stroke="#000" stroke-width="1.45" stroke-linejoin="round"/>
<polygon points="134.10,350.50 135.04,352.11 136.86,352.50 135.62,353.89 135.80,355.75 134.10,355.00 132.40,355.75 132.58,353.89 131.34,352.50 133.16,352.11" fill="#fff" stroke="#000" stroke-width="1.45" stroke-linejoin="round"/>
<polygon points="152.00,350.50 152.94,352.11 154.76,352.50 153.52,353.89 153.70,355.75 152.00,355.00 150.30,355.75 150.48,353.89 149.24,352.50 151.06,352.11" fill="#fff" stroke="#000" stroke-width="1.45" stroke-linejoin="round"/>
<polygon points="180.30,352.00 181.24,353.61 183.06,354.00 181.82,355.39 182.00,357.25 180.30,356.50 178.60,357.25 178.78,355.39 177.54,354.00 179.36,353.61" fill="#fff" stroke="#000" stroke-width="1.45" stroke-linejoin="round"/>
<polygon points="196.00,352.00 196.94,353.61 198.76,354.00 197.52,355.39 197.70,357.25 196.00,356.50 194.30,357.25 194.48,355.39 193.24,354.00 195.06,353.61" fill="#fff" stroke="#000" stroke-width="1.45" stroke-linejoin="round"/>
<polygon points="296.60,357.80 297.54,359.41 299.36,359.80 298.12,361.19 298.30,363.05 296.60,362.30 294.90,363.05 295.08,361.19 293.84,359.80 295.66,359.41" fill="#fff" stroke="#000" stroke-width="1.45" stroke-linejoin="round"/>
<polygon points="301.20,357.80 302.14,359.41 303.96,359.80 302.72,361.19 302.90,363.05 301.20,362.30 299.50,363.05 299.68,361.19 298.44,359.80 300.26,359.41" fill="#fff" stroke="#000" stroke-width="1.45" stroke-linejoin="round"/>
<polygon points="305.50,357.80 306.44,359.41 308.26,359.80 307.02,361.19 307.20,363.05 305.50,362.30 303.80,363.05 303.98,361.19 302.74,359.80 304.56,359.41" fill="#fff" stroke="#000" stroke-width="1.45" stroke-linejoin="round"/>
<polygon points="310.50,357.80 311.44,359.41 313.26,359.80 312.02,361.19 312.20,363.05 310.50,362.30 308.80,363.05 308.98,361.19 307.74,359.80 309.56,359.41" fill="#fff" stroke="#000" stroke-width="1.45" stroke-linejoin="round"/>
<polygon points="315.00,357.80 315.94,359.41 317.76,359.80 316.52,361.19 316.70,363.05 315.00,362.30 313.30,363.05 313.48,361.19 312.24,359.80 314.06,359.41" fill="#fff" stroke="#000" stroke-width="1.45" stroke-linejoin="round"/>
<polygon points="318.50,357.80 319.44,359.41 321.26,359.80 320.02,361.19 320.20,363.05 318.50,362.30 316.80,363.05 316.98,361.19 315.74,359.80 317.56,359.41" fill="#fff" stroke="#000" stroke-width="1.45" stroke-linejoin="round"/>
<polygon points="322.40,357.80 323.34,359.41 325.16,359.80 323.92,361.19 324.10,363.05 322.40,362.30 320.70,363.05 320.88,361.19 319.64,359.80 321.46,359.41" fill="#fff" stroke="#000" stroke-width="1.45" stroke-linejoin="round"/>
<polygon points="327.00,357.80 327.94,359.41 329.76,359.80 328.52,361.19 328.70,363.05 327.00,362.30 325.30,363.05 325.48,361.19 324.24,359.80 326.06,359.41" fill="#fff" stroke="#000" stroke-width="1.45" stroke-linejoin="round"/>
<polygon points="330.50,357.80 331.44,359.41 333.26,359.80 332.02,361.19 332.20,363.05 330.50,362.30 328.80,363.05 328.98,361.19 327.74,359.80 329.56,359.41" fill="#fff" stroke="#000" stroke-width="1.45" stroke-linejoin="round"/>
<polygon points="332.70,358.90 333.64,360.51 335.46,360.90 334.22,362.29 334.40,364.15 332.70,363.39 331.00,364.15 331.18,362.29 329.94,360.90 331.76,360.51" fill="#fff" stroke="#000" stroke-width="1.45" stroke-linejoin="round"/>
<polygon points="336.90,358.90 337.84,360.51 339.66,360.90 338.42,362.29 338.60,364.15 336.90,363.39 335.20,364.15 335.38,362.29 334.14,360.90 335.96,360.51" fill="#fff" stroke="#000" stroke-width="1.45" stroke-linejoin="round"/>
<polygon points="340.30,358.90 341.24,360.51 343.06,360.90 341.82,362.29 342.00,364.15 340.30,363.39 338.60,364.15 338.78,362.29 337.54,360.90 339.36,360.51" fill="#fff" stroke="#000" stroke-width="1.45" stroke-linejoin="round"/>
<polygon points="344.90,358.90 345.84,360.51 347.66,360.90 346.42,362.29 346.60,364.15 344.90,363.39 343.20,364.15 343.38,362.29 342.14,360.90 343.96,360.51" fill="#fff" stroke="#000" stroke-width="1.45" stroke-linejoin="round"/>
<polygon points="350.00,358.90 350.94,360.51 352.76,360.90 351.52,362.29 351.70,364.15 350.00,363.39 348.30,364.15 348.48,362.29 347.24,360.90 349.06,360.51" fill="#fff" stroke="#000" stroke-width="1.45" stroke-linejoin="round"/>
<polygon points="353.40,358.90 354.34,360.51 356.16,360.90 354.92,362.29 355.10,364.15 353.40,363.39 351.70,364.15 351.88,362.29 350.64,360.90 352.46,360.51" fill="#fff" stroke="#000" stroke-width="1.45" stroke-linejoin="round"/>
<polygon points="356.80,358.90 357.74,360.51 359.56,360.90 358.32,362.29 358.50,364.15 356.80,363.39 355.10,364.15 355.28,362.29 354.04,360.90 355.86,360.51" fill="#fff" stroke="#000" stroke-width="1.45" stroke-linejoin="round"/>
<polygon points="360.10,358.90 361.04,360.51 362.86,360.90 361.62,362.29 361.80,364.15 360.10,363.39 358.40,364.15 358.58,362.29 357.34,360.90 359.16,360.51" fill="#fff" stroke="#000" stroke-width="1.45" stroke-linejoin="round"/>
<polygon points="364.00,358.90 364.94,360.51 366.76,360.90 365.52,362.29 365.70,364.15 364.00,363.39 362.30,364.15 362.48,362.29 361.24,360.90 363.06,360.51" fill="#fff" stroke="#000" stroke-width="1.45" stroke-linejoin="round"/>
<polygon points="369.00,358.90 369.94,360.51 371.76,360.90 370.52,362.29 370.70,364.15 369.00,363.39 367.30,364.15 367.48,362.29 366.24,360.90 368.06,360.51" fill="#fff" stroke="#000" stroke-width="1.45" stroke-linejoin="round"/>
<polygon points="371.00,361.10 371.94,362.71 373.76,363.10 372.52,364.49 372.70,366.35 371.00,365.60 369.30,366.35 369.48,364.49 368.24,363.10 370.06,362.71" fill="none" stroke="#000" stroke-width="1.45" stroke-linejoin="round"/>
<polygon points="373.50,361.10 374.44,362.71 376.26,363.10 375.02,364.49 375.20,366.35 373.50,365.60 371.80,366.35 371.98,364.49 370.74,363.10 372.56,362.71" fill="none" stroke="#000" stroke-width="1.45" stroke-linejoin="round"/>
<polygon points="376.00,361.10 376.94,362.71 378.76,363.10 377.52,364.49 377.70,366.35 376.00,365.60 374.30,366.35 374.48,364.49 373.24,363.10 375.06,362.71" fill="none" stroke="#000" stroke-width="1.45" stroke-linejoin="round"/>
<polygon points="378.50,361.10 379.44,362.71 381.26,363.10 380.02,364.49 380.20,366.35 378.50,365.60 376.80,366.35 376.98,364.49 375.74,363.10 377.56,362.71" fill="none" stroke="#000" stroke-width="1.45" stroke-linejoin="round"/>
<polygon points="381.00,361.10 381.94,362.71 383.76,363.10 382.52,364.49 382.70,366.35 381.00,365.60 379.30,366.35 379.48,364.49 378.24,363.10 380.06,362.71" fill="none" stroke="#000" stroke-width="1.45" stroke-linejoin="round"/>
<polygon points="383.50,361.10 384.44,362.71 386.26,363.10 385.02,364.49 385.20,366.35 383.50,365.60 381.80,366.35 381.98,364.49 380.74,363.10 382.56,362.71" fill="none" stroke="#000" stroke-width="1.45" stroke-linejoin="round"/>
<polygon points="386.00,363.80 386.94,365.41 388.76,365.80 387.52,367.19 387.70,369.05 386.00,368.30 384.30,369.05 384.48,367.19 383.24,365.80 385.06,365.41" fill="none" stroke="#000" stroke-width="1.45" stroke-linejoin="round"/>
<polygon points="388.50,363.80 389.44,365.41 391.26,365.80 390.02,367.19 390.20,369.05 388.50,368.30 386.80,369.05 386.98,367.19 385.74,365.80 387.56,365.41" fill="none" stroke="#000" stroke-width="1.45" stroke-linejoin="round"/>
<polygon points="391.00,363.80 391.94,365.41 393.76,365.80 392.52,367.19 392.70,369.05 391.00,368.30 389.30,369.05 389.48,367.19 388.24,365.80 390.06,365.41" fill="none" stroke="#000" stroke-width="1.45" stroke-linejoin="round"/>
<polygon points="393.50,363.80 394.44,365.41 396.26,365.80 395.02,367.19 395.20,369.05 393.50,368.30 391.80,369.05 391.98,367.19 390.74,365.80 392.56,365.41" fill="none" stroke="#000" stroke-width="1.45" stroke-linejoin="round"/>
<polygon points="396.00,363.80 396.94,365.41 398.76,365.80 397.52,367.19 397.70,369.05 396.00,368.30 394.30,369.05 394.48,367.19 393.24,365.80 395.06,365.41" fill="none" stroke="#000" stroke-width="1.45" stroke-linejoin="round"/>
<polygon points="398.50,363.80 399.44,365.41 401.26,365.80 400.02,367.19 400.20,369.05 398.50,368.30 396.80,369.05 396.98,367.19 395.74,365.80 397.56,365.41" fill="none" stroke="#000" stroke-width="1.45" stroke-linejoin="round"/>
<polygon points="401.00,363.80 401.94,365.41 403.76,365.80 402.52,367.19 402.70,369.05 401.00,368.30 399.30,369.05 399.48,367.19 398.24,365.80 400.06,365.41" fill="none" stroke="#000" stroke-width="1.45" stroke-linejoin="round"/>
<polygon points="403.50,363.80 404.44,365.41 406.26,365.80 405.02,367.19 405.20,369.05 403.50,368.30 401.80,369.05 401.98,367.19 400.74,365.80 402.56,365.41" fill="none" stroke="#000" stroke-width="1.45" stroke-linejoin="round"/>
<polygon points="406.00,363.80 406.94,365.41 408.76,365.80 407.52,367.19 407.70,369.05 406.00,368.30 404.30,369.05 404.48,367.19 403.24,365.80 405.06,365.41" fill="none" stroke="#000" stroke-width="1.45" stroke-linejoin="round"/>
<polygon points="408.50,363.80 409.44,365.41 411.26,365.80 410.02,367.19 410.20,369.05 408.50,368.30 406.80,369.05 406.98,367.19 405.74,365.80 407.56,365.41" fill="none" stroke="#000" stroke-width="1.45" stroke-linejoin="round"/>
<polygon points="411.00,363.80 411.94,365.41 413.76,365.80 412.52,367.19 412.70,369.05 411.00,368.30 409.30,369.05 409.48,367.19 408.24,365.80 410.06,365.41" fill="none" stroke="#000" stroke-width="1.45" stroke-linejoin="round"/>
<polygon points="413.00,371.30 413.94,372.91 415.76,373.30 414.52,374.69 414.70,376.55 413.00,375.80 411.30,376.55 411.48,374.69 410.24,373.30 412.06,372.91" fill="#fff" stroke="#000" stroke-width="1.6" stroke-linejoin="round"/>
<polygon points="417.00,371.30 417.94,372.91 419.76,373.30 418.52,374.69 418.70,376.55 417.00,375.80 415.30,376.55 415.48,374.69 414.24,373.30 416.06,372.91" fill="#fff" stroke="#000" stroke-width="1.6" stroke-linejoin="round"/>
<polygon points="421.00,371.30 421.94,372.91 423.76,373.30 422.52,374.69 422.70,376.55 421.00,375.80 419.30,376.55 419.48,374.69 418.24,373.30 420.06,372.91" fill="#fff" stroke="#000" stroke-width="1.6" stroke-linejoin="round"/>
<polygon points="425.00,371.30 425.94,372.91 427.76,373.30 426.52,374.69 426.70,376.55 425.00,375.80 423.30,376.55 423.48,374.69 422.24,373.30 424.06,372.91" fill="#fff" stroke="#000" stroke-width="1.6" stroke-linejoin="round"/>
<polygon points="429.00,371.30 429.94,372.91 431.76,373.30 430.52,374.69 430.70,376.55 429.00,375.80 427.30,376.55 427.48,374.69 426.24,373.30 428.06,372.91" fill="#fff" stroke="#000" stroke-width="1.6" stroke-linejoin="round"/>
<polygon points="433.00,371.30 433.94,372.91 435.76,373.30 434.52,374.69 434.70,376.55 433.00,375.80 431.30,376.55 431.48,374.69 430.24,373.30 432.06,372.91" fill="#fff" stroke="#000" stroke-width="1.6" stroke-linejoin="round"/>
<polygon points="437.00,371.30 437.94,372.91 439.76,373.30 438.52,374.69 438.70,376.55 437.00,375.80 435.30,376.55 435.48,374.69 434.24,373.30 436.06,372.91" fill="#fff" stroke="#000" stroke-width="1.6" stroke-linejoin="round"/>
<polygon points="440.80,371.30 441.74,372.91 443.56,373.30 442.32,374.69 442.50,376.55 440.80,375.80 439.10,376.55 439.28,374.69 438.04,373.30 439.86,372.91" fill="#fff" stroke="#000" stroke-width="1.6" stroke-linejoin="round"/>
<polygon points="444.50,371.30 445.44,372.91 447.26,373.30 446.02,374.69 446.20,376.55 444.50,375.80 442.80,376.55 442.98,374.69 441.74,373.30 443.56,372.91" fill="#fff" stroke="#000" stroke-width="1.6" stroke-linejoin="round"/>
<polygon points="465.00,371.30 465.94,372.91 467.76,373.30 466.52,374.69 466.70,376.55 465.00,375.80 463.30,376.55 463.48,374.69 462.24,373.30 464.06,372.91" fill="#fff" stroke="#000" stroke-width="1.45" stroke-linejoin="round"/>
<polygon points="476.40,371.30 477.34,372.91 479.16,373.30 477.92,374.69 478.10,376.55 476.40,375.80 474.70,376.55 474.88,374.69 473.64,373.30 475.46,372.91" fill="#fff" stroke="#000" stroke-width="1.45" stroke-linejoin="round"/>
<polygon points="481.80,371.30 482.74,372.91 484.56,373.30 483.32,374.69 483.50,376.55 481.80,375.80 480.10,376.55 480.28,374.69 479.04,373.30 480.86,372.91" fill="#fff" stroke="#000" stroke-width="1.45" stroke-linejoin="round"/>
<line x1="146.30" y1="612.90" x2="173.20" y2="612.90" stroke="#222" stroke-width="1.3"/>
<text transform="translate(175.50,617.60) scale(1,1.07)" font-family="Liberation Sans, sans-serif" font-size="13.4" fill="#000">Intolerant</text>
<line x1="247.20" y1="612.90" x2="274.70" y2="612.90" stroke="#000" stroke-width="1.5" stroke-dasharray="1.9,2.1"/>
<text transform="translate(277.00,617.60) scale(1,1.07)" font-family="Liberation Sans, sans-serif" font-size="13.4" fill="#000">Resistant</text>
<line x1="353.00" y1="612.90" x2="375.10" y2="612.90" stroke="#000" stroke-width="1.3" stroke-dasharray="4,4.5"/>
<text transform="translate(378.40,617.60) scale(1,1.07)" font-family="Liberation Sans, sans-serif" font-size="13.4" fill="#000">Total</text>
<circle cx="151.70" cy="627.70" r="3.4" fill="#000"/>
<circle cx="159.50" cy="627.70" r="3.4" fill="#000"/>
<circle cx="167.70" cy="627.70" r="3.4" fill="#000"/>
<text transform="translate(175.50,632.50) scale(1,1.07)" font-family="Liberation Sans, sans-serif" font-size="13.4" fill="#000">Censored</text>
<polygon points="254.10,624.70 257.00,627.70 254.10,630.70 251.20,627.70" fill="#fff" stroke="#000" stroke-width="1.3"/>
<polygon points="262.00,624.70 264.90,627.70 262.00,630.70 259.10,627.70" fill="#fff" stroke="#000" stroke-width="1.3"/>
<polygon points="270.20,624.70 273.10,627.70 270.20,630.70 267.30,627.70" fill="#fff" stroke="#000" stroke-width="1.3"/>
<text transform="translate(277.00,632.50) scale(1,1.07)" font-family="Liberation Sans, sans-serif" font-size="13.4" fill="#000">Censored</text>
<polygon points="352.75,624.30 353.54,626.41 355.79,626.51 354.03,627.92 354.63,630.09 352.75,628.85 350.87,630.09 351.47,627.92 349.71,626.51 351.96,626.41" fill="#fff" stroke="#000" stroke-width="1.1" stroke-linejoin="round"/>
<polygon points="361.00,624.30 361.79,626.41 364.04,626.51 362.28,627.92 362.88,630.09 361.00,628.85 359.12,630.09 359.72,627.92 357.96,626.51 360.21,626.41" fill="#fff" stroke="#000" stroke-width="1.1" stroke-linejoin="round"/>
<polygon points="369.30,624.30 370.09,626.41 372.34,626.51 370.58,627.92 371.18,630.09 369.30,628.85 367.42,630.09 368.02,627.92 366.26,626.51 368.51,626.41" fill="#fff" stroke="#000" stroke-width="1.1" stroke-linejoin="round"/>
<text transform="translate(378.40,632.50) scale(1,1.07)" font-family="Liberation Sans, sans-serif" font-size="13.4" fill="#000">Censored</text>
</svg></body></html>
